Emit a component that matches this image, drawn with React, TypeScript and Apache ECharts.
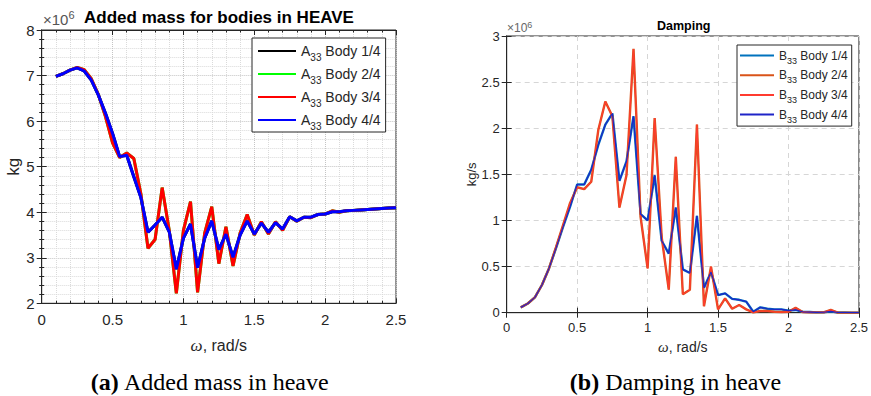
import React, { useEffect, useRef } from 'react';
import * as echarts from 'echarts';

// Frequency, rad/s
const omega = [
  0.1, 0.15, 0.2, 0.25, 0.3, 0.35, 0.4, 0.45, 0.5, 0.55, 0.6, 0.65, 0.7, 0.75, 0.8, 0.85, 0.9, 0.95, 1.0,
  1.05, 1.1, 1.15, 1.2, 1.25, 1.3, 1.35, 1.4, 1.45, 1.5, 1.55, 1.6, 1.65, 1.7, 1.75, 1.8, 1.85, 1.9, 1.95, 2.0,
  2.05, 2.1, 2.15, 2.2, 2.25, 2.3, 2.35, 2.4, 2.45, 2.5,
];

// Added mass A33, x10^6 kg — outer bodies (1/4, 4/4) and inner bodies (2/4, 3/4)
const addedMassOuter = [
  6.98, 7.04, 7.12, 7.17, 7.1, 6.9, 6.57, 6.17, 5.73, 5.22, 5.25, 4.78, 4.32, 3.56, 3.72, 3.89, 3.57, 2.75, 3.43,
  3.74, 2.78, 3.43, 3.81, 3.18, 3.52, 3.01, 3.5, 3.81, 3.52, 3.76, 3.56, 3.77, 3.63, 3.9, 3.81, 3.89, 3.89, 3.95, 3.96,
  4.01, 4.01, 4.03, 4.04, 4.05, 4.06, 4.07, 4.08, 4.09, 4.1,
];
const addedMassInner = [
  6.98, 7.04, 7.12, 7.18, 7.13, 6.93, 6.58, 6.1, 5.52, 5.2, 5.3, 5.18, 4.4, 3.21, 3.4, 4.54, 3.6, 2.22, 3.6,
  4.23, 2.24, 3.54, 4.12, 2.87, 3.68, 2.82, 3.54, 3.95, 3.5, 3.79, 3.52, 3.79, 3.6, 3.9, 3.8, 3.89, 3.88, 3.95, 3.96,
  4.03, 4.0, 4.03, 4.04, 4.05, 4.06, 4.07, 4.08, 4.09, 4.1,
];

// Damping B33, x10^6 kg/s
const dampingOuter = [
  0.058, 0.1, 0.166, 0.3, 0.48, 0.7, 0.93, 1.15, 1.39, 1.39, 1.55, 1.82, 2.04, 2.16, 1.43, 1.64, 2.13, 1.07, 1.0,
  1.49, 0.78, 0.64, 1.14, 0.47, 0.43, 1.05, 0.27, 0.44, 0.19, 0.21, 0.15, 0.14, 0.12, 0.01, 0.058, 0.043, 0.036, 0.036, 0.022,
  0.03, 0.01, 0.007, 0.004, 0.005, 0.015, 0.002, 0.002, 0.001, 0.001,
];
const dampingInner = [
  0.058, 0.1, 0.166, 0.3, 0.48, 0.71, 0.95, 1.19, 1.36, 1.34, 1.42, 1.98, 2.29, 2.13, 1.14, 1.49, 2.86, 1.04, 0.48,
  2.11, 0.82, 0.25, 1.69, 0.2, 0.25, 2.04, 0.07, 0.5, 0.036, 0.155, 0.043, 0.083, 0.036, 0.004, 0.018, 0.018, 0.01, 0.007, 0.01,
  0.054, 0.007, 0.004, 0.004, 0.003, 0.03, 0.001, 0.001, 0.001, 0.001,
];

const addedMassNames = ['A33 Body 1/4', 'A33 Body 2/4', 'A33 Body 3/4', 'A33 Body 4/4'];
const dampingNames = ['B33 Body 1/4', 'B33 Body 2/4', 'B33 Body 3/4', 'B33 Body 4/4'];

const SANS = '"Liberation Sans", Arial, Helvetica, sans-serif';
const SERIF = '"Liberation Serif", "Times New Roman", Times, serif';
const AX = '#262626';

const pairs = (vals: number[]) => omega.map((w, i) => [w, vals[i]]);

const legendFormatter = (name: string) => {
  const m = name.match(/^([AB])33(.*)$/);
  return m ? `{a|${m[1]}}{s|33}{a|${m[2]}}` : name;
};

function makeOption(): any {
  const baseAxis = (gridIndex: number, fontSize: number, margin: number) => ({
    gridIndex,
    type: 'value',
    axisLine: { show: true, lineStyle: { color: AX, width: 1 } },
    axisTick: { show: true, inside: true, length: 5, lineStyle: { color: AX } },
    axisLabel: { show: true, color: AX, fontSize, fontFamily: SANS, margin },
  });

  const majorDot = { type: 'dotted', color: '#c4c4c4', width: 1 };
  const minorDot = { type: 'dotted', color: '#dadada', width: 1 };

  const xAxis = [
    {
      ...baseAxis(0, 15, 9),
      position: 'bottom',
      min: 0, max: 2.5, interval: 0.5,
      minorTick: { show: true, splitNumber: 5, length: 2.5, lineStyle: { color: AX } },
      splitLine: { show: true, lineStyle: majorDot },
      minorSplitLine: { show: true, lineStyle: minorDot },
      name: '{i|ω}, rad/s',
      nameLocation: 'middle',
      nameGap: 34,
      nameTextStyle: {
        fontSize: 16, color: AX, fontFamily: SANS,
        rich: { i: { fontStyle: 'italic', fontFamily: SERIF, fontSize: 17, color: AX } },
      },
    },
    {
      ...baseAxis(0, 15, 9),
      position: 'top',
      min: 0, max: 2.5, interval: 0.5,
      axisLabel: { show: false },
      minorTick: { show: true, splitNumber: 5, length: 2.5, lineStyle: { color: AX } },
      splitLine: { show: false },
    },
    {
      ...baseAxis(1, 13, 8),
      position: 'bottom',
      min: 0, max: 2.5, interval: 0.5,
      splitLine: { show: true, lineStyle: { type: [5, 4], color: '#d6d6d6', width: 1 } },
      name: '{i|ω}, rad/s',
      nameLocation: 'middle',
      nameGap: 27,
      nameTextStyle: {
        fontSize: 14, color: AX, fontFamily: SANS,
        rich: { i: { fontStyle: 'italic', fontFamily: SERIF, fontSize: 15, color: AX } },
      },
    },
    {
      ...baseAxis(1, 13, 8),
      position: 'top',
      min: 0, max: 2.5, interval: 0.5,
      axisLabel: { show: false },
      splitLine: { show: false },
    },
  ];

  const yAxis = [
    {
      ...baseAxis(0, 15, 7),
      position: 'left',
      min: 2, max: 8, interval: 1,
      minorTick: { show: true, splitNumber: 5, length: 2.5, lineStyle: { color: AX } },
      splitLine: { show: true, lineStyle: majorDot },
      minorSplitLine: { show: true, lineStyle: minorDot },
      name: 'kg',
      nameLocation: 'middle',
      nameGap: 18,
      nameTextStyle: { fontSize: 17, color: AX, fontFamily: SANS },
    },
    {
      ...baseAxis(0, 15, 7),
      position: 'right',
      min: 2, max: 8, interval: 1,
      axisLabel: { show: false },
      minorTick: { show: true, splitNumber: 5, length: 2.5, lineStyle: { color: AX } },
      splitLine: { show: false },
    },
    {
      ...baseAxis(1, 13, 7),
      position: 'left',
      min: 0, max: 3, interval: 0.5,
      splitLine: { show: true, lineStyle: { type: [5, 4], color: '#d6d6d6', width: 1 } },
      name: 'kg/s',
      nameLocation: 'middle',
      nameGap: 28,
      nameTextStyle: { fontSize: 13, color: AX, fontFamily: SANS },
    },
    {
      ...baseAxis(1, 13, 7),
      position: 'right',
      min: 0, max: 3, interval: 0.5,
      axisLabel: { show: false },
      splitLine: { show: false },
    },
  ];

  const leftColors = ['#000000', '#00ff00', '#ff0000', '#0000ff'];
  const leftData = [addedMassOuter, addedMassInner, addedMassInner, addedMassOuter];
  const rightColors = ['#0072bd', '#d95319', '#ff3b2f', '#1f24c8'];
  const rightWidths = [2.4, 2.4, 1.2, 1.2];
  const rightData = [dampingOuter, dampingInner, dampingInner, dampingOuter];

  const series: any[] = [];
  addedMassNames.forEach((name, i) => {
    series.push({
      name, type: 'line', xAxisIndex: 0, yAxisIndex: 0,
      data: pairs(leftData[i]), symbol: 'none', showSymbol: false,
      lineStyle: { color: leftColors[i], width: 3 }, itemStyle: { color: leftColors[i] },
      z: 2 + i,
    });
  });
  dampingNames.forEach((name, i) => {
    series.push({
      name, type: 'line', xAxisIndex: 2, yAxisIndex: 2,
      data: pairs(rightData[i]), symbol: 'none', showSymbol: false,
      lineStyle: { color: rightColors[i], width: rightWidths[i] }, itemStyle: { color: rightColors[i] },
      z: 2 + i,
    });
  });

  const legendBase = {
    orient: 'vertical',
    backgroundColor: '#ffffff',
    borderColor: AX,
    borderWidth: 1,
    borderRadius: 0,
    selectedMode: false,
    formatter: legendFormatter,
    itemStyle: { opacity: 0, borderWidth: 0 },
  };

  const legend = [
    {
      ...legendBase,
      data: addedMassNames,
      left: 252, top: 38,
      padding: [2, 5, 1, 5],
      itemWidth: 38, itemHeight: 24, itemGap: 1,
      textStyle: {
        fontFamily: SANS, fontSize: 14, color: AX,
        rich: {
          a: { fontFamily: SANS, fontSize: 14, lineHeight: 18, padding: [3, 0, 3, 0], color: AX },
          s: { fontFamily: SANS, fontSize: 10, lineHeight: 11, padding: [12, 0, 0, 0], color: AX },
        },
      },
    },
    {
      ...legendBase,
      data: dampingNames,
      left: 737, top: 45,
      padding: [1, 4, 2, 2],
      itemWidth: 34, itemHeight: 20, itemGap: 0.7,
      textStyle: {
        fontFamily: SANS, fontSize: 12, color: AX,
        rich: {
          a: { fontFamily: SANS, fontSize: 12, lineHeight: 14, padding: [3, 0, 3, 0], color: AX },
          s: { fontFamily: SANS, fontSize: 9, lineHeight: 9, padding: [10, 0, 0, 0], color: AX },
        },
      },
    },
  ];

  const graphic = [
    {
      type: 'text', x: 219, y: 17, z: 10,
      style: {
        text: 'Added mass for bodies in HEAVE', font: `bold 17px ${SANS}`, fill: '#000',
        textAlign: 'center', textVerticalAlign: 'middle', align: 'center', verticalAlign: 'middle',
      },
    },
    {
      type: 'text', x: 43, y: 19, z: 10,
      style: {
        text: '{t|×10}{e|6}', fill: '#555', textAlign: 'left', textVerticalAlign: 'middle', align: 'left', verticalAlign: 'middle',
        rich: {
          t: { fontSize: 15, fontFamily: SANS, fill: '#555', lineHeight: 16 },
          e: { fontSize: 11, fontFamily: SANS, fill: '#555', lineHeight: 11, padding: [0, 0, 9, 0] },
        },
      },
    },
    {
      type: 'text', x: 683.7, y: 26, z: 10,
      style: {
        text: 'Damping', font: `bold 12.5px ${SANS}`, fill: '#000',
        textAlign: 'center', textVerticalAlign: 'middle', align: 'center', verticalAlign: 'middle',
      },
    },
    {
      type: 'text', x: 507, y: 28, z: 10,
      style: {
        text: '{t|×10}{e|6}', fill: '#666', textAlign: 'left', textVerticalAlign: 'middle', align: 'left', verticalAlign: 'middle',
        rich: {
          t: { fontSize: 12, fontFamily: SANS, fill: '#666', lineHeight: 13 },
          e: { fontSize: 9, fontFamily: SANS, fill: '#666', lineHeight: 9, padding: [0, 0, 7, 0] },
        },
      },
    },
    {
      type: 'text', x: 210, y: 382, z: 10,
      style: {
        text: '{b|(a)}{r| Added mass in heave}', fill: '#000',
        textAlign: 'center', textVerticalAlign: 'middle', align: 'center', verticalAlign: 'middle',
        rich: {
          b: { fontSize: 24, fontFamily: SERIF, fontWeight: 'bold', fill: '#000' },
          r: { fontSize: 24, fontFamily: SERIF, fill: '#000' },
        },
      },
    },
    {
      type: 'text', x: 675.5, y: 382, z: 10,
      style: {
        text: '{b|(b)}{r| Damping in heave}', fill: '#000',
        textAlign: 'center', textVerticalAlign: 'middle', align: 'center', verticalAlign: 'middle',
        rich: {
          b: { fontSize: 24, fontFamily: SERIF, fontWeight: 'bold', fill: '#000' },
          r: { fontSize: 24, fontFamily: SERIF, fill: '#000' },
        },
      },
    },
  ];

  return {
    animation: false,
    backgroundColor: '#ffffff',
    textStyle: { fontFamily: SANS },
    grid: [
      { left: 41.7, top: 30, width: 354.3, height: 273.3, show: true, borderColor: AX, borderWidth: 1, backgroundColor: '#fff' },
      { left: 506.7, top: 36, width: 354, height: 276.7, show: true, borderColor: AX, borderWidth: 1, backgroundColor: '#fff' },
    ],
    xAxis,
    yAxis,
    legend,
    series,
    graphic,
  };
}

export default function App() {
  const ref = useRef<HTMLDivElement>(null);
  useEffect(() => {
    if (!ref.current) return;
    const chart = echarts.init(ref.current, undefined, { renderer: 'svg' });
    chart.setOption(makeOption());
    return () => chart.dispose();
  }, []);
  return (
    <div
      ref={ref}
      style={{ position: 'fixed', left: 0, top: 0, width: 871, height: 396, background: '#fff' }}
    />
  );
}
